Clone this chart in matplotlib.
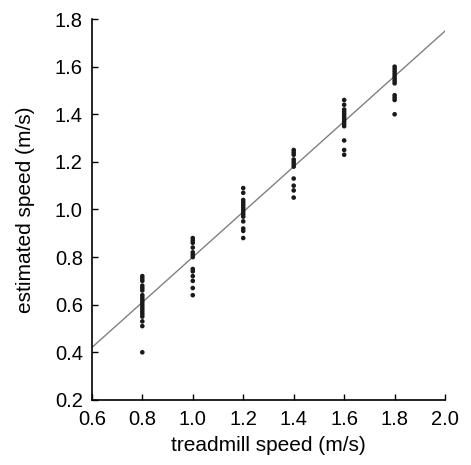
# coding=utf-8
"""
Velocidad estimada vs velocidad de la cinta
"""

import numpy as np
import matplotlib.pyplot as plt

plt.rcParams['font.family'] = ['Liberation Sans', 'DejaVu Sans']

# Datos
treadmill = [0.8, 1.0, 1.2, 1.4, 1.6, 1.8]
estimated = [
    [0.40, 0.51, 0.53, 0.55, 0.56, 0.57, 0.58, 0.59, 0.60, 0.61, 0.62,
     0.63, 0.64, 0.66, 0.67, 0.68, 0.70, 0.71, 0.72],
    [0.64, 0.67, 0.70, 0.72, 0.74, 0.75, 0.80, 0.81, 0.82, 0.84, 0.86,
     0.87, 0.88],
    [0.88, 0.91, 0.92, 0.95, 0.97, 0.98, 0.99, 1.00, 1.01, 1.02, 1.03,
     1.04, 1.07, 1.09],
    [1.05, 1.08, 1.10, 1.13, 1.18, 1.19, 1.20, 1.21, 1.23, 1.24, 1.25],
    [1.23, 1.25, 1.29, 1.35, 1.36, 1.37, 1.38, 1.39, 1.40, 1.41, 1.42,
     1.44, 1.46],
    [1.40, 1.46, 1.47, 1.48, 1.53, 1.54, 1.55, 1.56, 1.57, 1.58, 1.59,
     1.60],
]
fit_x = [0.6, 2.0]
fit_y = [0.42, 1.75]

fig = plt.figure(figsize=(4.71, 4.65), dpi=100)
ax = fig.add_axes([0.195, 0.14, 0.75, 0.819])

# Linea de ajuste
ax.plot(fit_x, fit_y, color='#808080', lw=1.0, zorder=1)

# Puntos
for t, vals in zip(treadmill, estimated):
    ax.scatter(np.full(len(vals), t), vals, s=11, color='#1a1a1a',
               edgecolors='none', zorder=2)

ax.set_xlim(0.6, 2.0)
ax.set_ylim(0.2, 1.8)
ax.set_xticks(np.arange(0.6, 2.01, 0.2))
ax.set_yticks(np.arange(0.2, 1.81, 0.2))
ax.xaxis.set_major_formatter(plt.FormatStrFormatter('%.1f'))
ax.yaxis.set_major_formatter(plt.FormatStrFormatter('%.1f'))
ax.tick_params(direction='in', length=4, width=1, labelsize=14.5)
ax.tick_params(axis='x', pad=7)
ax.tick_params(axis='y', pad=6.5)

for s in ['top', 'right']:
    ax.spines[s].set_visible(False)
for s in ['left', 'bottom']:
    ax.spines[s].set_linewidth(1.2)

ax.set_xlabel('treadmill speed (m/s)', fontsize=15)
ax.set_ylabel('estimated speed (m/s)', fontsize=15)
ax.xaxis.set_label_coords(0.5, -0.095)
ax.yaxis.set_label_coords(-0.16, 0.5)

fig.savefig('out.png', dpi=100)
